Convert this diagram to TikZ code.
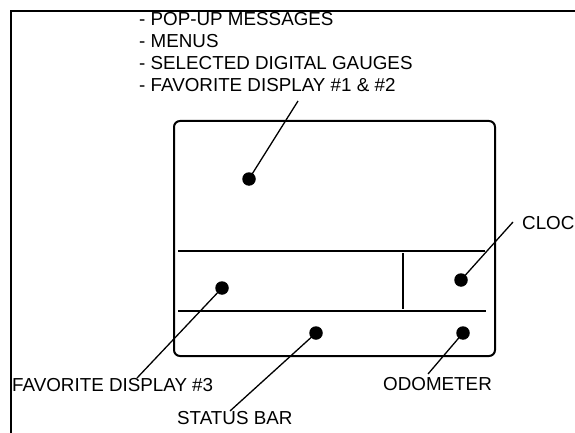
\documentclass[tikz,border=0pt]{standalone}
\usepackage{fontspec}
\setmainfont{Liberation Sans}
\begin{document}
\begin{tikzpicture}[x=1pt,y=-1pt,
  lbl/.style={font=\fontsize{18.8}{22}\selectfont, inner sep=0pt, anchor=base west},
  dot/.style={circle, fill=black, minimum size=13.5pt, inner sep=0pt},
  leader/.style={line width=1.3pt},
  panel/.style={line width=2pt, rounded corners=6pt},
  divider/.style={line width=1.6pt}]
\useasboundingbox (0,0) rectangle (575,433);
% outer frame
\draw[line width=2pt] (575,11) -- (10.5,11) -- (10.5,433);
% display
\draw[panel] (174,121) rectangle (495,356);
\draw[divider] (178,251) -- (485,251);
\draw[divider] (178,311) -- (486,311);
\draw[divider] (403,253) -- (403,309);
% dots
\node[dot] (d1) at (249,179) {};
\node[dot] (d2) at (222,288) {};
\node[dot] (d3) at (461,280) {};
\node[dot] (d4) at (316,333) {};
\node[dot] (d5) at (463,333) {};
% leader ends
\coordinate (e1) at (298,101);
\coordinate (e2) at (137,378);
\coordinate (e3) at (513,222);
\coordinate (e4) at (230,411);
\coordinate (e5) at (428,374);
\draw[leader] (d1.center) -- (e1);
\draw[leader] (d2.center) -- (e2);
\draw[leader] (d3.center) -- (e3);
\draw[leader] (d4.center) -- (e4);
\draw[leader] (d5.center) -- (e5);
% texts
\node[lbl] (t1) at (139,25.5) {- POP-UP MESSAGES};
\node[lbl] (t2) at (139,47.5) {- MENUS};
\node[lbl] (t3) at (139,69.5) {- SELECTED DIGITAL GAUGES};
\node[lbl] (t4) at (139,91.5) {- FAVORITE DISPLAY \#1 \& \#2};
\node[lbl] (cl) at (522,229.5) {CLOC};
\node[lbl] (fv) at (12,391.5) {FAVORITE DISPLAY \#3};
\node[lbl] (od) at (383,390) {ODOMETER};
\node[lbl] (sb) at (177,424.5) {STATUS BAR};
\end{tikzpicture}
\end{document}
